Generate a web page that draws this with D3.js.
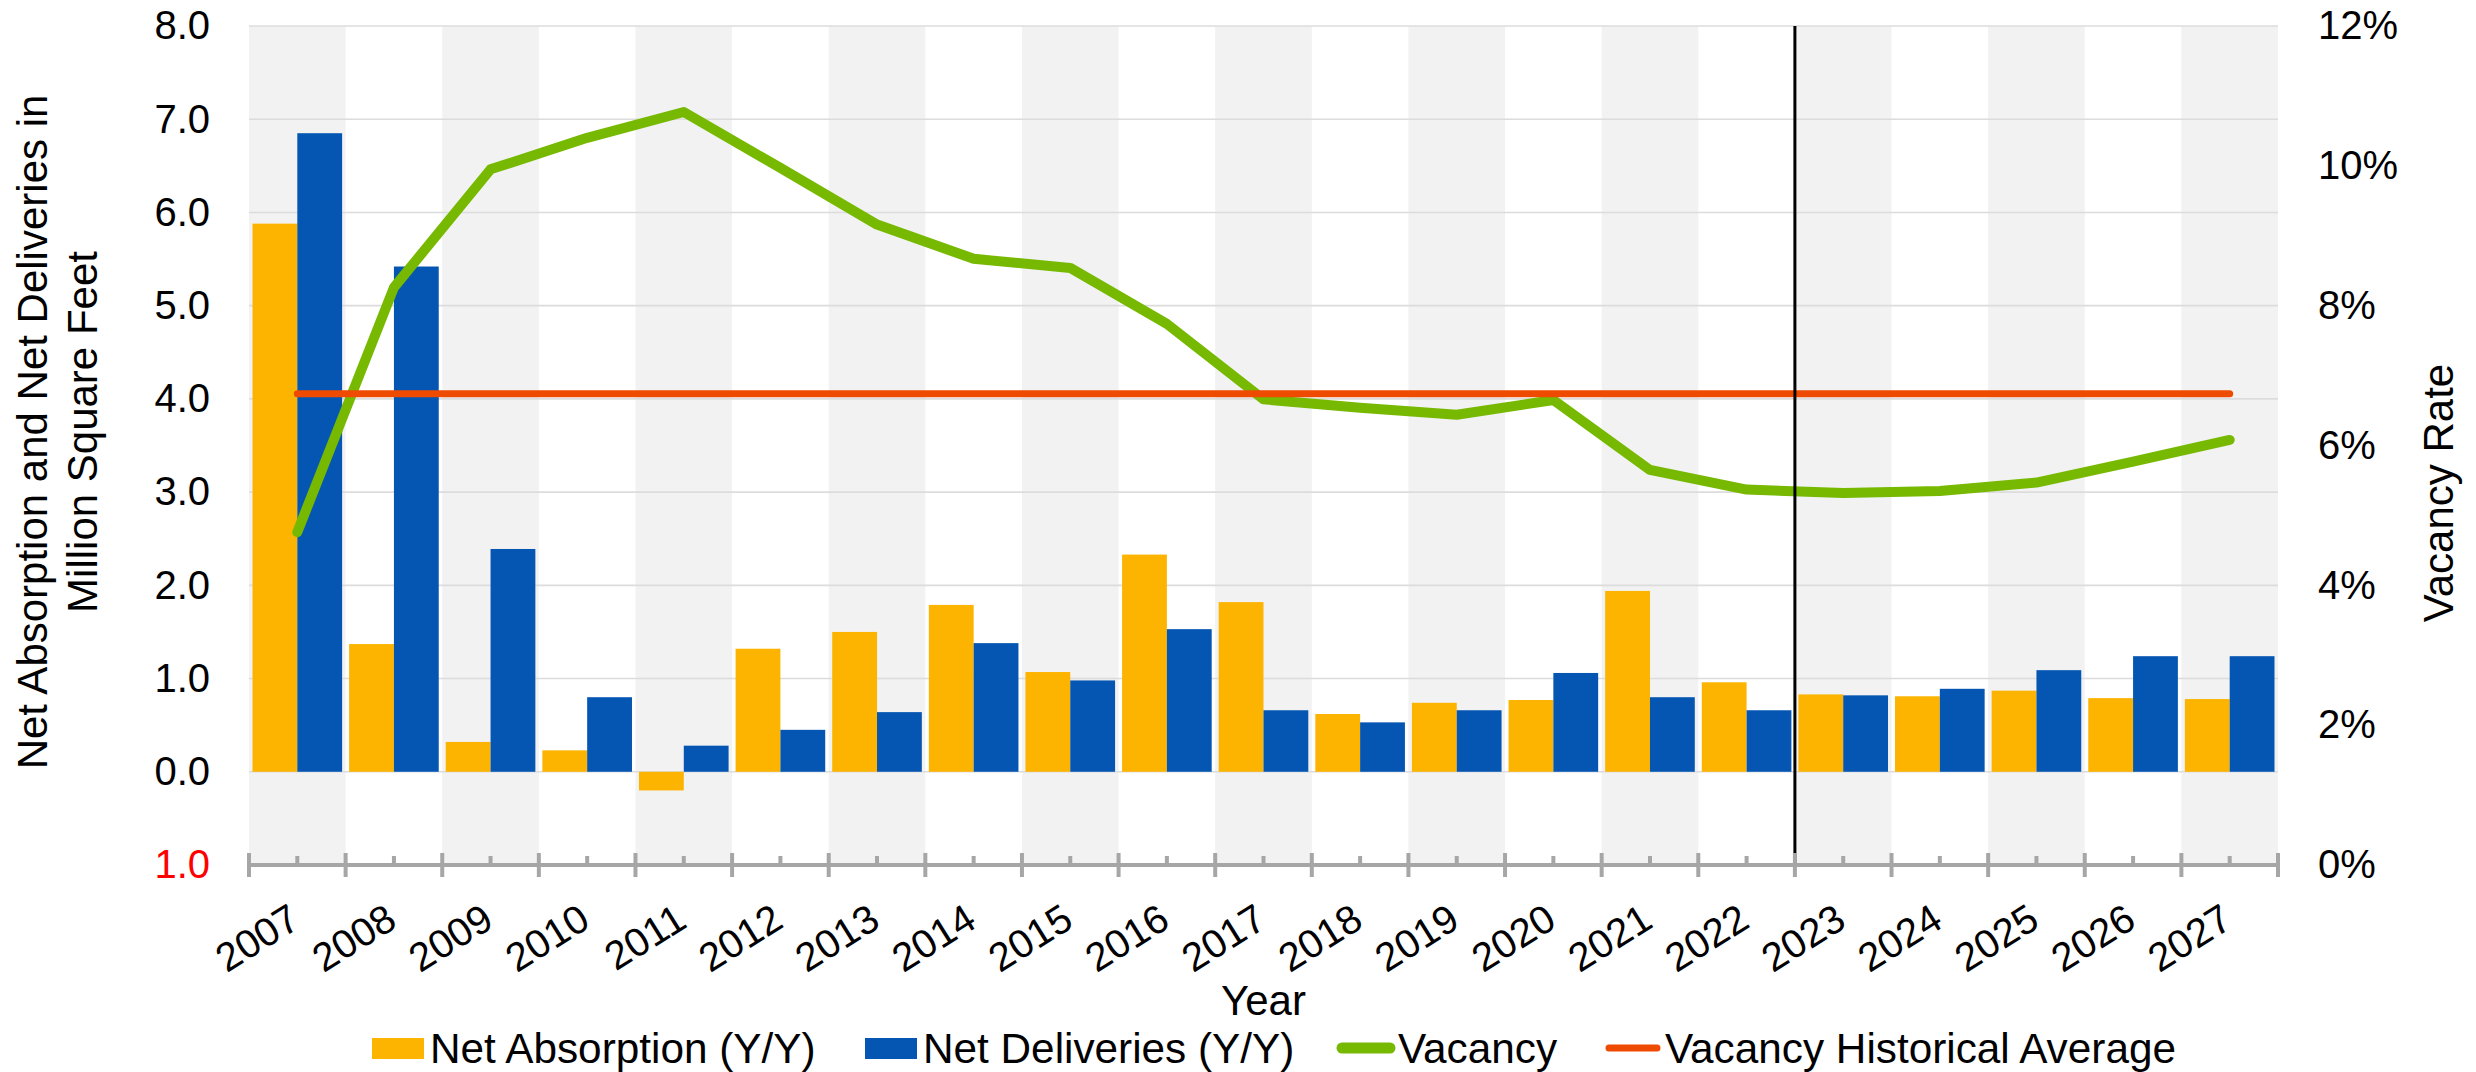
<!DOCTYPE html>
<html>
<head>
<meta charset="utf-8">
<script src="https://cdn.jsdelivr.net/npm/d3@7/dist/d3.min.js"></script>
<style>
  html, body { margin: 0; padding: 0; background: #fff; }
  svg { display: block; font-family: "Liberation Sans", Arial, sans-serif; }
</style>
</head>
<body>
<svg id="chart" width="2476" height="1072"></svg>
<script>
// ---------- DATA ----------
const years = ["2007","2008","2009","2010","2011","2012","2013","2014","2015","2016","2017",
               "2018","2019","2020","2021","2022","2023","2024","2025","2026","2027"];
const netAbsorption = [5.88, 1.37, 0.32, 0.23, -0.20, 1.32, 1.50, 1.79, 1.07, 2.33, 1.82,
                       0.62, 0.74, 0.77, 1.94, 0.96, 0.83, 0.81, 0.87, 0.79, 0.78];
const netDeliveries = [6.85, 5.42, 2.39, 0.80, 0.28, 0.45, 0.64, 1.38, 0.98, 1.53, 0.66,
                       0.53, 0.66, 1.06, 0.80, 0.66, 0.82, 0.89, 1.09, 1.24, 1.24];
const vacancy = [0.0476, 0.0826, 0.0995, 0.1040, 0.1077, 0.0997, 0.0916, 0.0867, 0.0854, 0.0774, 0.0666,
                 0.0654, 0.0644, 0.0665, 0.0565, 0.0537, 0.0532, 0.0535, 0.0547, 0.0577, 0.0608];
const vacancyAvg = years.map(() => 0.0674);
const leftTicks = [-1, 0, 1, 2, 3, 4, 5, 6, 7, 8];
const rightTicks = [0, 0.02, 0.04, 0.06, 0.08, 0.10, 0.12];
const forecastStart = "2023";
const seriesNames = ["Net Absorption (Y/Y)", "Net Deliveries (Y/Y)", "Vacancy", "Vacancy Historical Average"];

// ---------- STYLE ----------
const C = { abs: "#FDB400", del: "#0556B2", vac: "#76B900", avg: "#EF4B00",
            band: "#F2F2F2", grid: "#DCDCDC", axis: "#A6A6A6" };
const plot = { left: 249, right: 2278, top: 26, bottom: 865 };

const svg = d3.select("#chart");

const x0 = d3.scaleBand().domain(years).range([plot.left, plot.right]).padding(0);
const bw = x0.bandwidth();
const x1 = d3.scaleBand().domain(["abs", "del"]).range([3.5, bw - 3.5]).padding(0);
const yL = d3.scaleLinear().domain([-1, 8]).range([plot.bottom, plot.top]);
const yR = d3.scaleLinear().domain([0, 0.12]).range([plot.bottom, plot.top]);

// alternating bands
svg.append("g").selectAll("rect").data(years.filter((d, i) => i % 2 === 0)).join("rect")
  .attr("x", d => x0(d)).attr("width", bw)
  .attr("y", plot.top).attr("height", plot.bottom - plot.top)
  .attr("fill", C.band);

// gridlines
svg.append("g").selectAll("line").data(leftTicks.filter(d => d >= 0)).join("line")
  .attr("x1", plot.left).attr("x2", plot.right)
  .attr("y1", d => yL(d)).attr("y2", d => yL(d))
  .attr("stroke", C.grid).attr("stroke-width", 1.6);

// bars
const rows = years.map((y, i) => ({ year: y, abs: netAbsorption[i], del: netDeliveries[i] }));
const gBars = svg.append("g");
["abs", "del"].forEach(k => {
  gBars.append("g").selectAll("rect").data(rows).join("rect")
    .attr("x", d => x0(d.year) + x1(k))
    .attr("width", x1.bandwidth())
    .attr("y", d => yL(Math.max(0, d[k])))
    .attr("height", d => Math.abs(yL(d[k]) - yL(0)))
    .attr("fill", C[k]);
});

// vacancy line
const cx = d => x0(d) + bw / 2;
svg.append("path")
  .datum(years.map((y, i) => [y, vacancy[i]]))
  .attr("fill", "none").attr("stroke", C.vac).attr("stroke-width", 10)
  .attr("stroke-linejoin", "round").attr("stroke-linecap", "round")
  .attr("d", d3.line().x(d => cx(d[0])).y(d => yR(d[1])));

// vacancy historical average
svg.append("path")
  .datum(years.map((y, i) => [y, vacancyAvg[i]]))
  .attr("fill", "none").attr("stroke", C.avg).attr("stroke-width", 7)
  .attr("stroke-linejoin", "round").attr("stroke-linecap", "round")
  .attr("d", d3.line().x(d => cx(d[0])).y(d => yR(d[1])));

// forecast divider
svg.append("line")
  .attr("x1", x0(forecastStart)).attr("x2", x0(forecastStart))
  .attr("y1", plot.top).attr("y2", plot.bottom + 1)
  .attr("stroke", "#000").attr("stroke-width", 3);

// x axis line & ticks
const gx = svg.append("g");
gx.append("line").attr("x1", plot.left).attr("x2", plot.right)
  .attr("y1", plot.bottom).attr("y2", plot.bottom)
  .attr("stroke", C.axis).attr("stroke-width", 4);
const bounds = years.map(d => x0(d)).concat([x0(years[years.length - 1]) + bw]);
gx.selectAll("line.major").data(bounds).join("line").attr("class", "major")
  .attr("x1", d => d).attr("x2", d => d)
  .attr("y1", plot.bottom - 12).attr("y2", plot.bottom + 12)
  .attr("stroke", C.axis).attr("stroke-width", 4);
gx.selectAll("line.minor").data(years).join("line").attr("class", "minor")
  .attr("x1", d => cx(d)).attr("x2", d => cx(d))
  .attr("y1", plot.bottom - 9).attr("y2", plot.bottom)
  .attr("stroke", C.axis).attr("stroke-width", 4);
gx.selectAll("text").data(years).join("text")
  .attr("transform", d => `translate(${cx(d) + 5},926) rotate(-32)`)
  .attr("text-anchor", "end")
  .attr("font-size", 40).attr("fill", "#000")
  .text(d => d);

// left axis
const axL = d3.axisLeft(yL).tickValues(leftTicks).tickSize(0).tickPadding(39)
  .tickFormat(d => Math.abs(d).toFixed(1));
const gL = svg.append("g").attr("transform", `translate(${plot.left},0)`).call(axL);
gL.select(".domain").remove();
gL.selectAll("text").attr("font-size", 40).attr("font-family", "Liberation Sans, Arial, sans-serif")
  .attr("fill", d => d < 0 ? "#FF0000" : "#000");

// right axis
const axR = d3.axisRight(yR).tickValues(rightTicks).tickSize(0).tickPadding(40)
  .tickFormat(d3.format(".0%"));
const gR = svg.append("g").attr("transform", `translate(${plot.right},0)`).call(axR);
gR.select(".domain").remove();
gR.selectAll("text").attr("font-size", 40).attr("font-family", "Liberation Sans, Arial, sans-serif")
  .attr("fill", "#000");

// axis titles
const tL = svg.append("g").attr("font-size", 42).attr("text-anchor", "middle").attr("fill", "#000");
tL.append("text").attr("transform", "translate(47,432) rotate(-90)").text("Net Absorption and Net Deliveries in");
tL.append("text").attr("transform", "translate(97,432) rotate(-90)").text("Million Square Feet");
svg.append("text").attr("transform", "translate(2453,493) rotate(-90)")
  .attr("font-size", 42).attr("text-anchor", "middle").text("Vacancy Rate");
svg.append("text").attr("x", (plot.left + plot.right) / 2).attr("y", 1015)
  .attr("font-size", 42).attr("text-anchor", "middle").text("Year");

// legend
const legendItems = [
  { name: seriesNames[0], type: "rect", color: C.abs, x: 372 },
  { name: seriesNames[1], type: "rect", color: C.del, x: 865 },
  { name: seriesNames[2], type: "line", color: C.vac, w: 11, x: 1336 },
  { name: seriesNames[3], type: "line", color: C.avg, w: 7, x: 1603 }
];
const gLeg = svg.append("g");
legendItems.forEach(it => {
  const lx = it.x;
  if (it.type === "rect") {
    gLeg.append("rect").attr("x", lx).attr("y", 1038).attr("width", 52).attr("height", 21).attr("fill", it.color);
  } else {
    gLeg.append("line").attr("x1", lx + 6).attr("x2", lx + 54).attr("y1", 1048).attr("y2", 1048)
      .attr("stroke", it.color).attr("stroke-width", it.w).attr("stroke-linecap", "round");
  }
  const tx = it.type === "rect" ? lx + 58 : lx + 62;
  gLeg.append("text").attr("x", tx).attr("y", 1063).attr("font-size", 42.3).attr("fill", "#000").text(it.name);
});
</script>
</body>
</html>
